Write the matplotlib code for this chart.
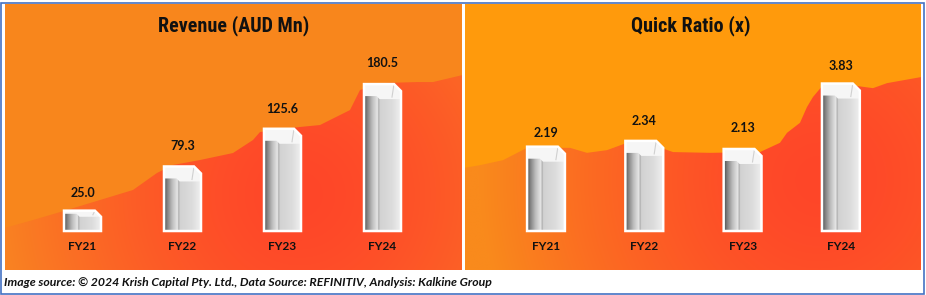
import matplotlib
matplotlib.use("Agg")
import matplotlib.pyplot as plt
import numpy as np
from matplotlib import font_manager
from matplotlib.patches import Polygon, Rectangle
from matplotlib.colors import LinearSegmentedColormap, to_rgb

# ---------------- data ----------------
years = ["FY21", "FY22", "FY23", "FY24"]
revenue = [25.0, 79.3, 125.6, 180.5]
revenue_labels = ["25.0", "79.3", "125.6", "180.5"]
quick_ratio = [2.19, 2.34, 2.13, 3.83]
quick_labels = ["2.19", "2.34", "2.13", "3.83"]

# decorative backdrop ridge (category position, value level)
rev_ridge_x = [-0.78, -0.495, -0.155, 0.175, 0.505, 0.745, 0.905, 1.175, 1.505, 1.705,
               1.775, 2.175, 2.375, 2.675, 2.775, 3.005, 3.345, 3.505, 3.80]
rev_ridge_y = [3.7, 13.5, 25.8, 38.1, 50.4, 71.3, 81.1, 87.2, 95.8, 111.8,
               121.6, 127.8, 130.2, 148.6, 173.2, 181.8, 183.0, 183.0, 191.6]
qr_ridge_x = [-0.83, -0.671, -0.437, -0.193, 0.244, 0.417, 0.621, 0.824, 1.027, 1.292,
              1.668, 2.177, 2.380, 2.452, 2.584, 2.655, 2.716, 2.818, 3.093, 3.327,
              3.469, 3.82]
qr_ridge_y = [1.64, 1.71, 1.84, 2.16, 2.16, 2.03, 2.10, 2.29, 2.29, 2.05,
              2.03, 2.05, 2.29, 2.55, 2.81, 3.22, 3.48, 3.79, 3.79, 3.71,
              3.84, 4.00]

title_left = "Revenue (AUD Mn)"
title_right = "Quick Ratio (x)"
caption = ("Image source: \u00a9 2024 Krish Capital Pty. Ltd., Data Source: REFINITIV, "
           "Analysis: Kalkine Group")

# ---------------- fonts ----------------
names = {f.name for f in font_manager.fontManager.ttflist}
title_font, title_stretch = "DejaVu Sans", "condensed"
for cand in ["Roboto Condensed", "Open Sans Condensed", "Liberation Sans Narrow",
             "DejaVu Sans Condensed"]:
    if cand in names:
        title_font, title_stretch = cand, "normal"
        break
text_font = "Lato" if "Lato" in names else "DejaVu Sans"

W, H = 926, 295
fig = plt.figure(figsize=(W / 100, H / 100), dpi=100)
fig.patch.set_facecolor("white")

bar_cmap = LinearSegmentedColormap.from_list(
    "barshade",
    [(0.0, "#4e4e4e"), (0.07, "#7a7a7a"), (0.22, "#bdbdbd"), (0.37, "#e8e8e8"),
     (0.395, "#a8a8a8"), (0.43, "#d2d2d2"), (0.75, "#dcdcdc"), (1.0, "#efefef")])


def panel(px_box, title, title_x, values, labels, xlim, ylim, ridge_x, ridge_y,
          top_color, low_color, red_color, glow_px, glow_r, bar_w, lab_off):
    x0p, y0p, x1p, y1p = px_box
    wpx, hpx = x1p - x0p, y1p - y0p
    ax = fig.add_axes([x0p / W, 1 - y1p / H, wpx / W, hpx / H])
    ax.set_xlim(*xlim)
    ax.set_ylim(*ylim)
    ax.axis("off")
    ax.add_patch(Rectangle((0, 0), 1, 1, transform=ax.transAxes,
                           facecolor=top_color, edgecolor="none", zorder=0))

    # gradient lower backdrop
    nx, ny = 300, 180
    u = np.linspace(0, 1, nx) * wpx
    v = np.linspace(0, 1, ny) * hpx
    U, V = np.meshgrid(u, v)
    cu = glow_px[0] - x0p
    cv = y1p - glow_px[1]
    d = np.sqrt((U - cu) ** 2 + (V - cv) ** 2) / glow_r
    f = np.clip(d, 0, 1) ** 1.6
    red = np.array(to_rgb(red_color))
    low = np.array(to_rgb(low_color))
    rgb = red[None, None, :] * (1 - f[..., None]) + low[None, None, :] * f[..., None]
    verts = list(zip(ridge_x, ridge_y)) + [(ridge_x[-1], ylim[0] - 1), (ridge_x[0], ylim[0] - 1)]
    clip = Polygon(verts, closed=True, facecolor="none", edgecolor="none",
                   transform=ax.transData)
    ax.add_patch(clip)
    im = ax.imshow(rgb, extent=(xlim[0], xlim[1], ylim[0], ylim[1]), origin="lower",
                   aspect="auto", zorder=1, interpolation="bilinear")
    im.set_clip_path(clip)

    pxx = (xlim[1] - xlim[0]) / wpx
    pxy = (ylim[1] - ylim[0]) / hpx

    bars = ax.bar(range(len(values)), values, width=bar_w, color="none",
                  edgecolor="none", zorder=3)
    grad = np.tile(np.linspace(0, 1, 200), (2, 1))
    for p in bars.patches:
        bx0 = p.get_x()
        bw = p.get_width()
        bh = p.get_height()
        bx1 = bx0 + bw
        c = min(7, 0.3 * bh / pxy)
        body_v = [(bx0, 0), (bx0, bh), (bx1 - c * pxx, bh), (bx1, bh - c * pxy), (bx1, 0)]
        body = Polygon(body_v, closed=True, facecolor="none", edgecolor="white",
                       linewidth=1.8, zorder=6)
        ax.add_patch(body)
        bim = ax.imshow(grad, extent=(bx0, bx1, 0, bh), aspect="auto", cmap=bar_cmap,
                        zorder=4, interpolation="bilinear", vmin=0, vmax=1)
        bim.set_clip_path(body)
        cap_h = min(15, 0.3 * bh / pxy)
        xm = bx0 + 0.42 * bw
        cap_v = [(bx0, bh), (bx1 - c * pxx, bh), (bx1, bh - c * pxy), (bx1, bh - cap_h * pxy),
                 (xm, bh - cap_h * pxy), (xm - 3 * pxx, bh - (cap_h - 3) * pxy),
                 (bx0, bh - (cap_h - 3) * pxy)]
        ax.add_patch(Polygon(cap_v, closed=True, facecolor="#f6f6f6", edgecolor="none",
                             zorder=5))
        ax.plot([bx1 - c * pxx, bx1 - c * pxx - 2 * pxx], [bh, bh - (cap_h - 2) * pxy],
                color="#d0d0d0", lw=0.8, zorder=5)

    for i, (val, lab) in enumerate(zip(values, labels)):
        ax.annotate(lab, (i, val), xytext=(0, lab_off[i]), textcoords="offset points",
                    ha="center", va="center", fontsize=9, fontweight="bold",
                    family=text_font, color="#111111", zorder=7)
        ax.annotate(years[i], (i, 0), xytext=(0, -11.5), textcoords="offset points",
                    ha="center", va="center", fontsize=8.6, fontweight="bold",
                    family=text_font, color="#111111", zorder=7)
    ax.text(title_x, 0.92, title, transform=ax.transAxes, ha="center", va="center",
            fontsize=14.5, fontweight="bold", family=title_font, fontstretch=title_stretch,
            color="#111111", zorder=7)
    ax.set_xlim(*xlim)
    ax.set_ylim(*ylim)
    return ax


panel((5, 4, 462, 270), title_left, 0.501, revenue, revenue_labels,
      (-0.775, 3.795), (-47.9, 278.9), rev_ridge_x, rev_ridge_y,
      "#F8861C", "#F98222", "#FF4629", (300, 195), 300, 0.37,
      [12.5, 15, 14.5, 15])
panel((465, 4, 921, 270), title_right, 0.496, quick_ratio, quick_labels,
      (-0.824, 3.815), (-1.013, 5.896), qr_ridge_x, qr_ridge_y,
      "#FF9A0C", "#F98A1C", "#FF4629", (820, 180), 340, 0.385,
      [10, 14.5, 15, 12.5])

fig.text(4 / W, 1 - 282 / H, caption, ha="left", va="center", fontsize=8.8,
         fontweight="bold", style="italic", family=text_font, color="#111111")

fig.add_artist(Rectangle((1 / W, 1.5 / H), 922.5 / W, 291 / H, transform=fig.transFigure,
                         facecolor="none", edgecolor="#4472C4", linewidth=1.2))

fig.savefig("out.png", dpi=100, facecolor="white")
